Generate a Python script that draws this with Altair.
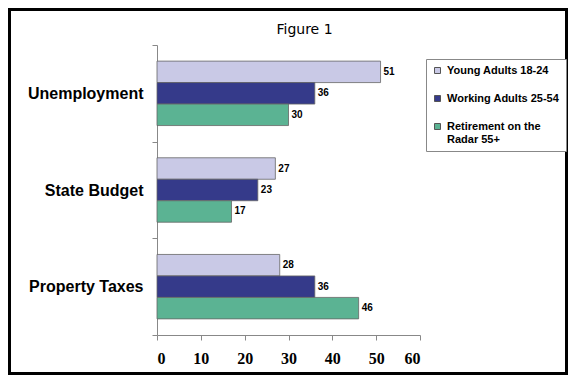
import altair as alt
import pandas as pd

categories = ["Unemployment", "State Budget", "Property Taxes"]
groups = ["Young Adults 18-24", "Working Adults 25-54", "Retirement on the Radar 55+"]
young = [51, 27, 28]
working = [36, 23, 36]
retire = [30, 17, 46]
x_ticks = [0, 10, 20, 30, 40, 50, 60]
colors = ["#C9C9E6", "#353A8A", "#5BB393"]

rows = []
for i, c in enumerate(categories):
    for g, vals in zip(groups, [young, working, retire]):
        rows.append({"issue": c, "group": g, "value": vals[i]})
df = pd.DataFrame(rows)

y_enc = alt.Y(
    "issue:N", sort=categories, title=None,
    scale=alt.Scale(paddingInner=0, paddingOuter=0),
    axis=alt.Axis(
        labelFont="Liberation Sans", labelFontSize=16, labelFontWeight="bold",
        labelColor="black", labelPadding=9, tickBand="extent", tickSize=5,
        tickColor="#888888", domainColor="#888888", grid=False,
    ),
)
yoff_enc = alt.YOffset(
    "group:N", sort=groups,
    scale=alt.Scale(paddingInner=0, paddingOuter=0.75),
)
x_enc = alt.X(
    "value:Q", title=None,
    scale=alt.Scale(domain=[0, 60]),
    axis=alt.Axis(
        values=x_ticks, labelFont="Liberation Serif", labelFontSize=16,
        labelFontWeight="bold", labelColor="black", labelPadding=10,
        tickSize=5, tickColor="#888888", domainColor="#888888", grid=False,
    ),
)

bars = alt.Chart(df).mark_bar(stroke="#666666", strokeWidth=0.8).encode(
    x=x_enc, y=y_enc, yOffset=yoff_enc,
    color=alt.Color(
        "group:N", sort=groups,
        scale=alt.Scale(domain=groups, range=colors),
        legend=alt.Legend(
            title=None, orient="none", legendX=269, legendY=14,
            labelFont="Liberation Sans", labelFontSize=11, labelFontWeight="bold",
            labelColor="black", symbolType="square", symbolSize=36,
            symbolStrokeColor="#555555", symbolStrokeWidth=1, symbolOpacity=1,
            rowPadding=16, padding=6, labelOffset=4,
            strokeColor="#888888", fillColor="white",
            labelExpr="datum.label == 'Retirement on the Radar 55+' ? ['Retirement on the', 'Radar 55+'] : datum.label",
        ),
    ),
)

labels = alt.Chart(df).mark_text(
    align="left", baseline="middle", dx=3, fontSize=10, fontWeight="bold",
    font="Liberation Sans", color="black",
).encode(x=x_enc, y=y_enc, yOffset=yoff_enc, text="value:Q")

border = alt.Chart(alt.Data(values=[{}])).mark_rect(
    fillOpacity=0, stroke="black", strokeWidth=3,
).encode(
    x=alt.value(-147.5), x2=alt.value(409.5),
    y=alt.value(-35.5), y2=alt.value(328.5),
)

chart = alt.layer(bars, labels, border).properties(
    width=263, height=290,
    padding={"left": 149, "top": 37, "right": 148, "bottom": 40},
    autosize=alt.AutoSizeParams(type="none"),
    title=alt.Title(
        "Figure 1", font="DejaVu Sans", fontSize=14, fontWeight="normal",
        color="black", anchor="middle", dx=16, offset=-43, baseline="bottom",
    ),
).configure_view(stroke=None)

chart.save("out.html", embed_options={"renderer": "svg", "actions": False})
